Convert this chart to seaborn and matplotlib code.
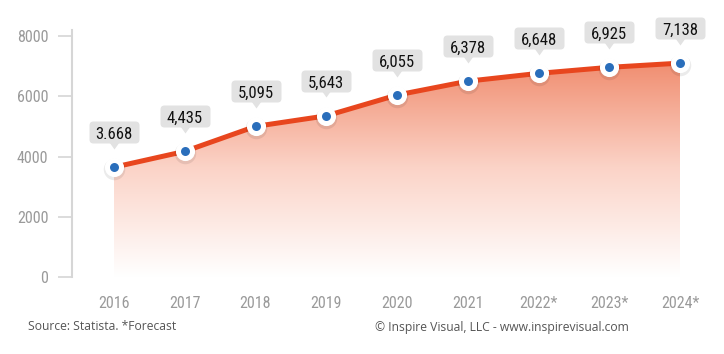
import numpy as np
import pandas as pd
import matplotlib
matplotlib.use("Agg")
import matplotlib.pyplot as plt
import matplotlib.transforms as mtransforms
from matplotlib.colors import LinearSegmentedColormap
from matplotlib.patches import Polygon, FancyBboxPatch
from matplotlib.path import Path
import seaborn as sns

years = ["2016", "2017", "2018", "2019", "2020", "2021", "2022*", "2023*", "2024*"]
values = [3645, 4170, 5000, 5350, 6040, 6500, 6760, 6960, 7100]
value_labels = ["3.668", "4,435", "5,095", "5,643", "6,055", "6,378", "6,648", "6,925", "7,138"]
yticks = [0, 2000, 4000, 6000, 8000]

sns.set_theme(style="white")
fams = ['Roboto Condensed', 'Roboto', 'DejaVu Sans']
plt.rcParams['font.family'] = fams

df = pd.DataFrame({"idx": np.arange(len(years)), "value": values, "year": years})

fig = plt.figure(figsize=(7.24, 3.54), dpi=100)
W, H = 724, 354
PT = 0.72  # points per pixel at dpi 100
ax = fig.add_axes([72 / W, (H - 277) / H, (700 - 72) / W, (277 - 30) / H])

px = 70.75
ax.set_xlim(-(114 - 72) / px, 8 + (700 - 680) / px)
ax.set_ylim(0, 8000 + 6 / 30.1 * 1000)

x = df["idx"].values
y = df["value"].values
cmap = LinearSegmentedColormap.from_list("g", ["#ffffff", "#fbd3c7", "#f08a6c"])
grad = np.linspace(0, 1, 256).reshape(-1, 1)
im = ax.imshow(grad, extent=[x[0], x[-1], 0, 7300], origin="lower", aspect="auto",
               cmap=cmap, zorder=1)
poly = Polygon(np.column_stack([np.r_[x, x[::-1]], np.r_[y, np.zeros_like(y)]]),
               closed=True, facecolor="none", edgecolor="none")
ax.add_patch(poly)
im.set_clip_path(poly)

sns.lineplot(data=df, x="idx", y="value", ax=ax, color="#e8461e", linewidth=3.6, zorder=3)
ax.scatter(x, y - 60, s=240, color="#000000", alpha=0.08, zorder=4, linewidths=0)
ax.scatter(x, y, s=190, color="white", zorder=5, linewidths=0)
ax.scatter(x, y, s=42, color="#2a6ebb", zorder=6, linewidths=0)

# label box marker (rounded rect 50x22 px) and pointer triangle
box_path = FancyBboxPatch((-25, -11), 50, 22,
                          boxstyle="round,pad=0,rounding_size=4").get_path()
tri_path = Path([(-5, 1), (5, 1), (0, -6), (-5, 1)],
                [Path.MOVETO, Path.LINETO, Path.LINETO, Path.CLOSEPOLY])

box_tr = ax.transData + mtransforms.ScaledTranslation(0, 35 * PT / 72, fig.dpi_scale_trans)
tri_tr = ax.transData + mtransforms.ScaledTranslation(0, 24.5 * PT / 72, fig.dpi_scale_trans)
ax.plot(x, y, linestyle="none", marker=box_path, markersize=50 * PT,
        color="#e2e2e2", markeredgewidth=0, transform=box_tr, zorder=7, clip_on=False)
ax.plot(x, y, linestyle="none", marker=tri_path, markersize=12 * PT,
        color="#e2e2e2", markeredgewidth=0, transform=tri_tr, zorder=7, clip_on=False)

for xi, yi, lab in zip(x, y, value_labels):
    ax.annotate(lab, (xi, yi), xytext=(0, 28.5 * PT), textcoords="offset points",
                ha="center", va="baseline", fontsize=12, color="#111111",
                fontweight="normal", zorder=8)

ax.set_xticks(x)
ax.set_xticklabels(years)
ax.set_yticks(yticks)
ax.set_yticklabels([str(v) for v in yticks])
ax.set_xlabel("")
ax.set_ylabel("")
for s in ["top", "right", "bottom"]:
    ax.spines[s].set_visible(False)
ax.spines["left"].set_color("#d6d6d6")
ax.spines["left"].set_linewidth(1.5)
ax.tick_params(axis="y", length=10, width=1.2, color="#d6d6d6", pad=7,
               labelsize=11.5, labelcolor="#9a9a9a", left=True)
ax.tick_params(axis="x", length=0, pad=14, labelsize=11.5, labelcolor="#9a9a9a")

fig.text(28 / W, 1 - 327 / H, "Source: Statista. *Forecast", fontsize=8.7,
         color="#555555", va="center", ha="left", family="Open Sans")
fig.text(375 / W, 1 - 327 / H, "\u00a9 Inspire Visual, LLC - www.inspirevisual.com",
         fontsize=8.7, color="#555555", va="center", ha="left", family="Open Sans")

fig.savefig("out.png", dpi=100)
